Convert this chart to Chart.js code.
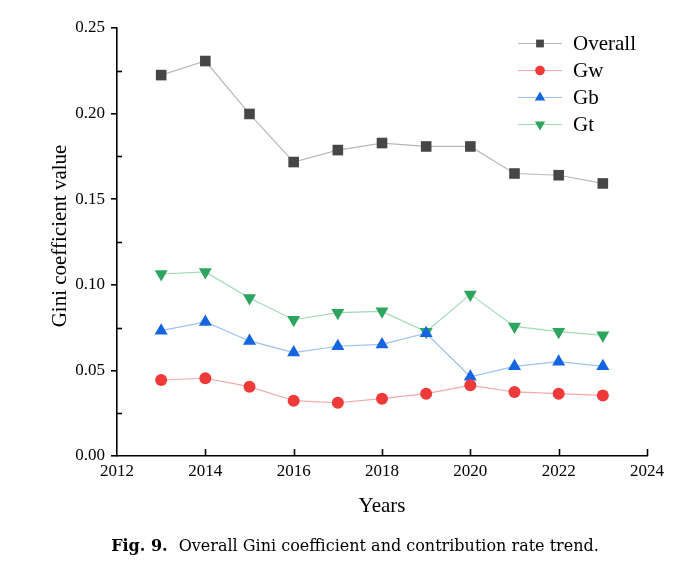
<!DOCTYPE html>
<html><head><meta charset="utf-8">
<script src="https://cdn.jsdelivr.net/npm/chart.js@4.4.0/dist/chart.umd.min.js"></script>
<style>html,body{margin:0;padding:0;background:#fff;}#wrap{width:700px;height:568px;position:relative;}</style>
</head><body><div id="wrap"><canvas id="c" width="700" height="568"></canvas></div>
<script>
const years = [2013, 2014, 2015, 2016, 2017, 2018, 2019, 2020, 2021, 2022, 2023];
const overall = [0.2225, 0.2307, 0.1998, 0.1717, 0.1787, 0.1828, 0.1808, 0.1808, 0.1650, 0.1640, 0.1592];
const gw = [0.0444, 0.0454, 0.0405, 0.0323, 0.0311, 0.0335, 0.0364, 0.0413, 0.0374, 0.0364, 0.0354];
const gb = [0.0732, 0.0783, 0.0672, 0.0604, 0.0641, 0.0652, 0.0717, 0.0463, 0.0524, 0.0551, 0.0524];
const gt = [0.1063, 0.1075, 0.0923, 0.0796, 0.0837, 0.0845, 0.0726, 0.0944, 0.0757, 0.0726, 0.0705];
const seriesNames = ['Overall', 'Gw', 'Gb', 'Gt'];
const xTitle = 'Years';
const yTitle = 'Gini coefficient value';
const captionBold = 'Fig. 9.';
const captionText = 'Overall Gini coefficient and contribution rate trend.';

const SERIF = '"Liberation Serif", "Times New Roman", serif';
const CAPSERIF = '"DejaVu Serif", serif';
function pts(vals){ return years.map((y,i)=>({x:y, y:vals[i]})); }

const styles = [
  {data: overall, line:'#b8b8b8', fill:'#464646', shape:'rect', r:7.5, rot:0, lr:5.5},
  {data: gw, line:'#f6a8a8', fill:'#f03a3a', shape:'circle', r:6, rot:0, lr:4.8},
  {data: gb, line:'#9cc2f2', fill:'#1565e0', shape:'triangle', r:7.5, rot:0, lr:6},
  {data: gt, line:'#9fdcb6', fill:'#2ea55e', shape:'triangle', r:7.5, rot:180, lr:6}
];

const datasets = styles.map((s,i)=>({
  label: seriesNames[i], data: pts(s.data), borderColor: s.line, borderWidth: 1.2,
  backgroundColor: s.fill, pointBackgroundColor: s.fill, pointBorderColor: s.fill, pointBorderWidth: 0,
  pointStyle: s.shape, pointRadius: s.r, pointRotation: s.rot, tension: 0, legendRadius: s.lr
}));

const decor = {
  id: 'decor',
  afterDraw(chart){
    const ctx = chart.ctx, xs = chart.scales.x, ys = chart.scales.y;
    const ca = chart.chartArea;
    ctx.save();
    ctx.strokeStyle = '#000'; ctx.lineWidth = 1.6;
    // y minor ticks inward
    for (let v = 0.025; v < 0.25; v += 0.05) {
      const py = Math.round(ys.getPixelForValue(v)) + 0.5;
      ctx.beginPath(); ctx.moveTo(ca.left, py); ctx.lineTo(ca.left + 5, py); ctx.stroke();
    }
    // x major ticks inward
    for (let v = 2014; v <= 2024; v += 2) {
      const px = Math.round(xs.getPixelForValue(v)) + 0.5;
      ctx.beginPath(); ctx.moveTo(px, ca.bottom); ctx.lineTo(px, ca.bottom - 7); ctx.stroke();
    }
    // axis titles
    ctx.fillStyle = '#000';
    ctx.textAlign = 'center'; ctx.textBaseline = 'middle';
    ctx.font = '21px ' + SERIF;
    ctx.fillText(xTitle, (ca.left + ca.right) / 2, 506);
    ctx.save();
    ctx.translate(60, 236); ctx.rotate(-Math.PI / 2);
    ctx.fillText(yTitle, 0, 0);
    ctx.restore();
    // legend
    const lx0 = 518, lx1 = 562, tx = 573;
    const ly = [43, 70, 97, 124];
    chart.data.datasets.forEach((ds, i) => {
      const y = ly[i];
      ctx.strokeStyle = ds.borderColor; ctx.lineWidth = 1.2;
      ctx.beginPath(); ctx.moveTo(lx0, y + 0.5); ctx.lineTo(lx1, y + 0.5); ctx.stroke();
      ctx.fillStyle = ds.pointBackgroundColor;
      ctx.strokeStyle = ds.pointBackgroundColor;
      Chart.helpers.drawPoint(ctx, {pointStyle: ds.pointStyle, rotation: ds.pointRotation, radius: ds.legendRadius, borderWidth: 0}, (lx0 + lx1) / 2, y + 0.5);
      ctx.fillStyle = '#000';
      ctx.textAlign = 'left'; ctx.textBaseline = 'middle';
      ctx.font = '21px ' + SERIF;
      ctx.fillText(ds.label, tx, y + 1);
    });
    // caption
    ctx.textBaseline = 'middle';
    ctx.font = 'bold 16px ' + CAPSERIF;
    const wb = ctx.measureText(captionBold).width;
    ctx.font = '16px ' + CAPSERIF;
    const gap = 11;
    const wt = ctx.measureText(captionText).width;
    const total = wb + gap + wt;
    let sx = 355 - total / 2;
    ctx.textAlign = 'left';
    ctx.font = 'bold 16px ' + CAPSERIF;
    ctx.fillText(captionBold, sx, 547);
    ctx.font = '16px ' + CAPSERIF;
    ctx.fillText(captionText, sx + wb + gap, 547);
    ctx.restore();
  }
};

new Chart(document.getElementById('c'), {
  type: 'line',
  data: { datasets },
  options: {
    responsive: false, animation: false, devicePixelRatio: 1,
    layout: { padding: { left: 0, top: 28, right: 53, bottom: 0 } },
    plugins: { legend: { display: false }, tooltip: { enabled: false } },
    scales: {
      x: {
        type: 'linear', min: 2012, max: 2024,
        afterFit(s){ s.height = 112; },
        border: { display: true, color: '#000', width: 1.6 },
        grid: { display: false, drawTicks: false },
        ticks: { stepSize: 2, padding: 5, color: '#000', font: { family: SERIF, size: 17 }, callback: v => String(v) }
      },
      y: {
        min: 0, max: 0.25,
        afterFit(s){ s.width = 117; },
        border: { display: true, color: '#000', width: 1.6 },
        grid: { display: true, drawOnChartArea: false, drawTicks: true, tickLength: 6, color: '#000', lineWidth: 1.6 },
        ticks: { stepSize: 0.05, padding: 6, color: '#000', font: { family: SERIF, size: 17 }, callback: v => Number(v).toFixed(2) }
      }
    }
  },
  plugins: [decor]
});
</script></body></html>
